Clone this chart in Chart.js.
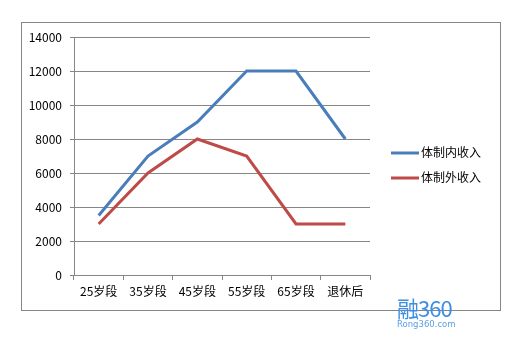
<!DOCTYPE html>
<html>
<head>
<meta charset="utf-8">
<script src="https://cdn.jsdelivr.net/npm/chart.js@4/dist/chart.umd.min.js"></script>
<style>
  body { margin: 0; background: #fff; }
  #wrap { position: relative; width: 517px; height: 346px; }
  #frame { position: absolute; left: 21px; top: 22px; width: 478px; height: 287px; border: 1px solid #868686; }
  canvas { position: absolute; left: 0; top: 0; }
  #logo { position: absolute; left: 397px; top: 294px; color: #3c8fe2; font-family: "Noto Sans CJK SC", sans-serif; }
  #logo .big { font-size: 22px; line-height: 26px; letter-spacing: -1px; }
  #logo .small { font-size: 8.5px; line-height: 9px; font-family: "DejaVu Sans", sans-serif; color: #5aa0e6; }
</style>
</head>
<body>
<div id="wrap">
  <div id="frame"></div>
  <canvas id="myChart" width="517" height="346"></canvas>
  <div id="logo"><div class="big">融360</div><div class="small">Rong360.com</div></div>
</div>
<script>
// dati del grafico
const categories = ['25岁段', '35岁段', '45岁段', '55岁段', '65岁段', '退休后'];
const insideIncome = [3500, 7000, 9000, 12000, 12000, 8000];   // 体制内收入
const outsideIncome = [3000, 6000, 8000, 7000, 3000, 3000];    // 体制外收入
const seriesNames = ['体制内收入', '体制外收入'];
const yTicks = [0, 2000, 4000, 6000, 8000, 10000, 12000, 14000];

const labelFont = { family: "'Noto Sans CJK SC', 'DejaVu Sans', sans-serif", size: 12 };

// legenda disegnata a mano, a destra
const sideLegend = {
  id: 'sideLegend',
  afterDraw(chart) {
    const c = chart.ctx;
    c.save();
    c.font = "12px 'Noto Sans CJK SC', sans-serif";
    c.textBaseline = 'middle';
    chart.data.datasets.forEach((ds, i) => {
      const y = 153 + i * 25;
      c.strokeStyle = ds.borderColor;
      c.lineWidth = 3;
      c.beginPath();
      c.moveTo(391, y);
      c.lineTo(419, y);
      c.stroke();
      c.fillStyle = '#000';
      c.fillText(ds.label, 421, y - 1);
    });
    c.restore();
  }
};

const ctx = document.getElementById('myChart').getContext('2d');
const myChart = new Chart(ctx, {
  type: 'line',
  data: {
    labels: categories,
    datasets: [
      { label: seriesNames[0], data: insideIncome, borderColor: '#4a7ebb', borderWidth: 3, pointRadius: 0, tension: 0 },
      { label: seriesNames[1], data: outsideIncome, borderColor: '#be4b48', borderWidth: 3, pointRadius: 0, tension: 0 }
    ]
  },
  options: {
    responsive: false,
    animation: false,
    layout: { padding: { top: 37, right: 147, bottom: 36, left: 0 } },
    plugins: { legend: { display: false }, tooltip: { enabled: false } },
    scales: {
      x: {
        offset: true,
        grid: { offset: true, drawOnChartArea: false, drawTicks: true, tickLength: 5, color: '#868686' },
        border: { display: true, color: '#868686' },
        ticks: { color: '#000', font: labelFont, padding: 4, maxRotation: 0 },
        afterFit(scale) { scale.height = 35; }
      },
      y: {
        min: 0,
        max: 14000,
        afterBuildTicks(scale) { scale.ticks = yTicks.map(v => ({ value: v })); },
        grid: { color: '#868686', tickLength: 4 },
        border: { display: true, color: '#868686' },
        ticks: { color: '#000', font: labelFont, padding: 8, callback: v => String(v) },
        afterFit(scale) { scale.width = 74; }
      }
    }
  },
  plugins: [sideLegend]
});
</script>
</body>
</html>
